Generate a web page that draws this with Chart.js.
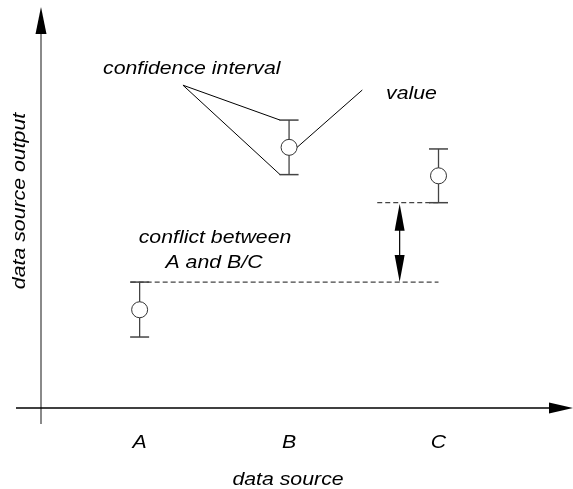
<!DOCTYPE html>
<html>
<head>
<meta charset="utf-8">
<script src="https://cdn.jsdelivr.net/npm/chart.js@4.4.1/dist/chart.umd.min.js"></script>
<style>
  html, body { margin: 0; padding: 0; background: #fff; }
  #wrap { width: 573px; height: 489px; position: relative; }
</style>
</head>
<body>
<div id="wrap"><canvas id="plotCanvas"></canvas></div>
<script>
// data sources along the x axis and their output with confidence intervals
const sources = ['A', 'B', 'C'];
const sourceX = [1, 2, 3];
const values = [2.45, 6.5, 5.79];
const lowBounds = [1.77, 5.82, 5.12];
const highBounds = [3.14, 7.18, 6.46];

// conflict between A and B/C (dashed reference levels)
const conflictLow = [{ x: 0.94, y: 3.14 }, { x: 3.0, y: 3.14 }];
const conflictHigh = [{ x: 2.59, y: 5.12 }, { x: 3.0, y: 5.12 }];
const conflictArrowX = 2.74;

// anchor points of the annotation leader lines
const ciLabelAnchor = { x: 1.29, y: 8.05 };
const valueLabelAnchor = { x: 2.49, y: 7.93 };

const xMin = 0.34, xMax = 3.9;
const yMin = 0, yMax = 10;

const FONT = 'italic 19px "Liberation Sans", Arial, sans-serif';
const STRETCH = 1.12;

function drawText(ctx, text, x, y, align, rotate) {
    ctx.save();
    ctx.translate(x, y);
    if (rotate) ctx.rotate(-Math.PI / 2);
    ctx.scale(STRETCH, 1);
    ctx.font = FONT;
    ctx.fillStyle = '#000';
    ctx.textAlign = align;
    ctx.textBaseline = 'alphabetic';
    ctx.fillText(text, 0, 0);
    ctx.restore();
}

function triangle(ctx, tipX, tipY, baseX1, baseY1, baseX2, baseY2) {
    ctx.beginPath();
    ctx.moveTo(tipX, tipY);
    ctx.lineTo(baseX1, baseY1);
    ctx.lineTo(baseX2, baseY2);
    ctx.closePath();
    ctx.fill();
}

const sketchPlugin = {
    id: 'sketch',
    afterDraw(chart) {
        const ctx = chart.ctx;
        const xs = chart.scales.x;
        const ys = chart.scales.y;
        const area = chart.chartArea;

        // y axis (grey) with arrow
        ctx.save();
        ctx.strokeStyle = '#8a8a8a';
        ctx.lineWidth = 2;
        ctx.beginPath();
        ctx.moveTo(area.left, area.bottom + 16);
        ctx.lineTo(area.left, area.top + 26);
        ctx.stroke();
        ctx.fillStyle = '#000';
        triangle(ctx, area.left, area.top, area.left - 5.5, area.top + 27, area.left + 5.5, area.top + 27);

        // x axis with arrow
        ctx.strokeStyle = '#000';
        ctx.lineWidth = 1.5;
        ctx.beginPath();
        ctx.moveTo(area.left - 25, area.bottom);
        ctx.lineTo(area.right - 23, area.bottom);
        ctx.stroke();
        triangle(ctx, area.right, area.bottom, area.right - 24, area.bottom - 5.5, area.right - 24, area.bottom + 5.5);

        // double arrow showing the conflict
        const ax = xs.getPixelForValue(conflictArrowX);
        const aTop = ys.getPixelForValue(conflictHigh[0].y);
        const aBot = ys.getPixelForValue(conflictLow[0].y);
        ctx.lineWidth = 1.2;
        ctx.beginPath();
        ctx.moveTo(ax, aTop + 20);
        ctx.lineTo(ax, aBot - 20);
        ctx.stroke();
        triangle(ctx, ax, aTop + 1, ax - 5, aTop + 28, ax + 5, aTop + 28);
        triangle(ctx, ax, aBot, ax - 5, aBot - 27, ax + 5, aBot - 27);

        // leader lines
        const bi = 1;
        const bx = xs.getPixelForValue(sourceX[bi]);
        ctx.lineWidth = 1;
        ctx.strokeStyle = '#000';
        const cx = xs.getPixelForValue(ciLabelAnchor.x);
        const cy = ys.getPixelForValue(ciLabelAnchor.y);
        ctx.beginPath();
        ctx.moveTo(cx, cy);
        ctx.lineTo(bx - 9, ys.getPixelForValue(highBounds[bi]));
        ctx.moveTo(cx, cy);
        ctx.lineTo(bx - 9, ys.getPixelForValue(lowBounds[bi]));
        ctx.moveTo(xs.getPixelForValue(valueLabelAnchor.x), ys.getPixelForValue(valueLabelAnchor.y));
        ctx.lineTo(bx + 8, ys.getPixelForValue(values[bi]));
        ctx.stroke();
        ctx.restore();

        // texts
        drawText(ctx, 'confidence interval', 103, 74, 'left');
        drawText(ctx, 'value', 386, 99, 'left');
        drawText(ctx, 'conflict between', 215, 243, 'center');
        drawText(ctx, 'A and B/C', 214, 268, 'center');
        sources.forEach((s, i) => {
            drawText(ctx, s, xs.getPixelForValue(sourceX[i]), 448, 'center');
        });
        drawText(ctx, 'data source', 288, 485, 'center');
        drawText(ctx, 'data source output', 25, 201, 'center', true);
    }
};

const circleData = sources.map((s, i) => ({ x: sourceX[i], y: values[i] }));
const capData = [];
sources.forEach((s, i) => {
    capData.push({ x: sourceX[i], y: lowBounds[i] });
    capData.push({ x: sourceX[i], y: highBounds[i] });
});
const stemSets = sources.map((s, i) => ({
    type: 'line',
    label: 'interval ' + s,
    data: [{ x: sourceX[i], y: lowBounds[i] }, { x: sourceX[i], y: highBounds[i] }],
    borderColor: '#444',
    borderWidth: 1.3,
    pointRadius: 0,
    order: 3
}));

var ctx = document.getElementById('plotCanvas').getContext('2d');
var myChart = new Chart(ctx, {
    type: 'scatter',
    data: {
        datasets: [
            {
                label: 'value',
                data: circleData,
                pointStyle: 'circle',
                pointRadius: 8,
                backgroundColor: '#fff',
                borderColor: '#333',
                borderWidth: 1,
                order: 1
            },
            {
                label: 'caps',
                data: capData,
                pointStyle: 'line',
                pointRadius: 9.5,
                borderColor: '#444',
                borderWidth: 1.5,
                order: 2
            },
            ...stemSets,
            {
                type: 'line',
                label: 'conflict low',
                data: conflictLow,
                borderColor: '#444',
                borderWidth: 1.2,
                borderDash: [5, 3],
                pointRadius: 0,
                order: 4
            },
            {
                type: 'line',
                label: 'conflict high',
                data: conflictHigh,
                borderColor: '#444',
                borderWidth: 1.2,
                borderDash: [5, 3],
                pointRadius: 0,
                order: 4
            }
        ]
    },
    options: {
        responsive: true,
        maintainAspectRatio: false,
        animation: false,
        events: [],
        layout: { autoPadding: false, padding: { left: 41, top: 7, right: 0, bottom: 81 } },
        plugins: {
            legend: { display: false },
            tooltip: { enabled: false }
        },
        scales: {
            x: { type: 'linear', min: xMin, max: xMax, display: false },
            y: { type: 'linear', min: yMin, max: yMax, display: false }
        }
    },
    plugins: [sketchPlugin]
});
</script>
</body>
</html>
